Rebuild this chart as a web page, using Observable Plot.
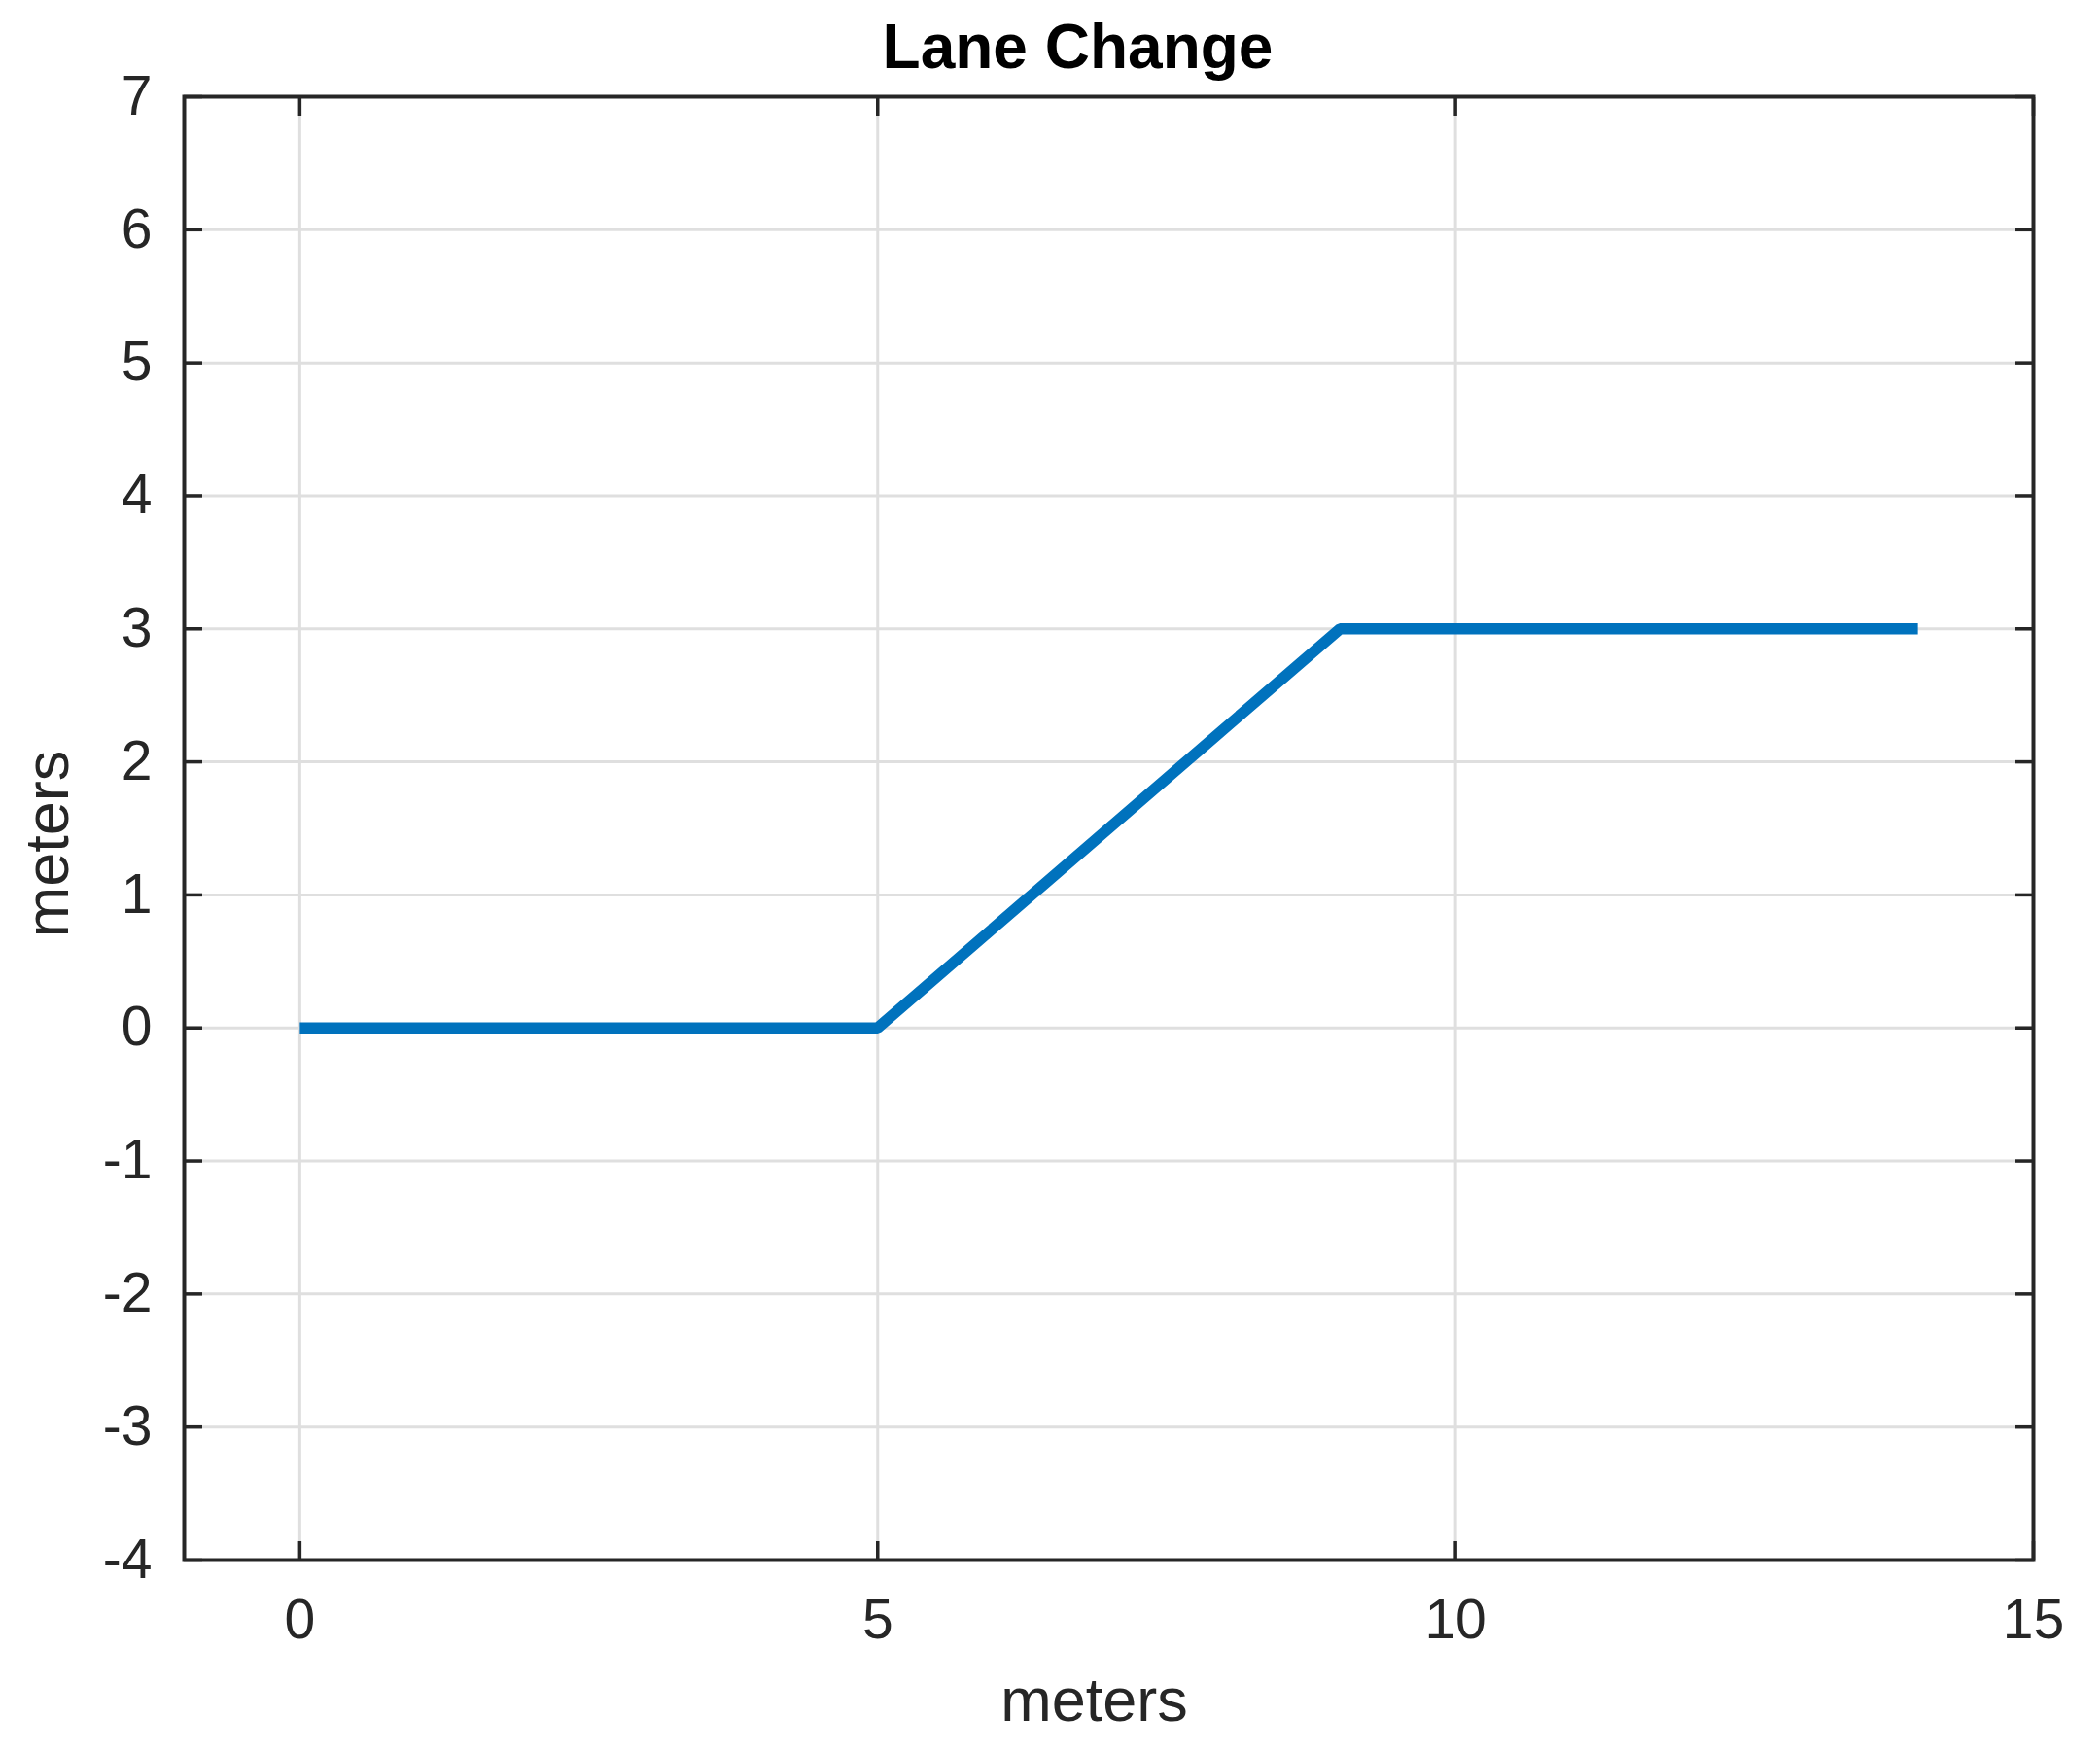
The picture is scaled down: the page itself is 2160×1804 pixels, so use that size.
<!DOCTYPE html>
<html>
<head>
<meta charset="utf-8">
<script src="https://cdn.jsdelivr.net/npm/d3@7"></script>
<script src="https://cdn.jsdelivr.net/npm/@observablehq/plot@0.6"></script>
<style>
  html, body { margin: 0; padding: 0; background: #ffffff; }
  #chart svg { display: block; }
</style>
</head>
<body>
<div id="chart"></div>
<script>
const title = "Lane Change";
const xLabel = "meters";
const yLabel = "meters";
const xValues = [0, 5, 9, 14];
const yValues = [0, 0, 3, 3];
const xDomain = [-1, 15];
const yDomain = [-4, 7];
const xTicks = [0, 5, 10, 15];
const yTicks = [-4, -3, -2, -1, 0, 1, 2, 3, 4, 5, 6, 7];

const points = xValues.map((x, i) => ({x, y: yValues[i]}));
const ink = "#262626";
const gridColor = "#dfdfdf";
const fmt = d => String(d);

const chart = Plot.plot({
  width: 2160,
  height: 1804,
  marginLeft: 189,
  marginRight: 69,
  marginTop: 99,
  marginBottom: 200,
  style: {fontFamily: "'Liberation Sans', Arial, Helvetica, sans-serif", background: "#ffffff", color: ink},
  x: {domain: xDomain},
  y: {domain: yDomain},
  marks: [
    Plot.gridX(xTicks, {stroke: gridColor, strokeOpacity: 1, strokeWidth: 3}),
    Plot.gridY(yTicks, {stroke: gridColor, strokeOpacity: 1, strokeWidth: 3}),
    // tick labels
    Plot.axisX(xTicks, {anchor: "bottom", tickSize: 0, tickPadding: 40, tickFormat: fmt, fontSize: 57, fill: ink, label: null}),
    Plot.axisY(yTicks, {anchor: "left", tickSize: 0, tickPadding: 33, tickFormat: fmt, fontSize: 57, fill: ink, label: null}),
    // inward ticks on all four sides
    Plot.axisX(xTicks, {anchor: "bottom", tickSize: -19, fill: "none", stroke: ink, strokeWidth: 3.5, label: null}),
    Plot.axisX(xTicks, {anchor: "top", tickSize: -19, fill: "none", stroke: ink, strokeWidth: 3.5, label: null}),
    Plot.axisY(yTicks, {anchor: "left", tickSize: -19, fill: "none", stroke: ink, strokeWidth: 3.5, label: null}),
    Plot.axisY(yTicks, {anchor: "right", tickSize: -19, fill: "none", stroke: ink, strokeWidth: 3.5, label: null}),
    Plot.line(points, {x: "x", y: "y", stroke: "#0072BD", strokeWidth: 11.5, strokeLinecap: "butt", strokeLinejoin: "miter"}),
    Plot.frame({stroke: ink, strokeWidth: 4}),
    Plot.text([title], {frameAnchor: "top", lineAnchor: "bottom", dy: -30, dx: -32, fontSize: 64, fontWeight: "bold", fill: "#000000"}),
    Plot.text([xLabel], {frameAnchor: "bottom", lineAnchor: "bottom", dy: 165, dx: -15, fontSize: 63, fill: ink}),
    Plot.text([yLabel], {frameAnchor: "left", textAnchor: "middle", lineAnchor: "bottom", rotate: -90, dx: -120, dy: 16, fontSize: 63, fill: ink})
  ]
});
document.getElementById("chart").appendChild(chart);
</script>
</body>
</html>
